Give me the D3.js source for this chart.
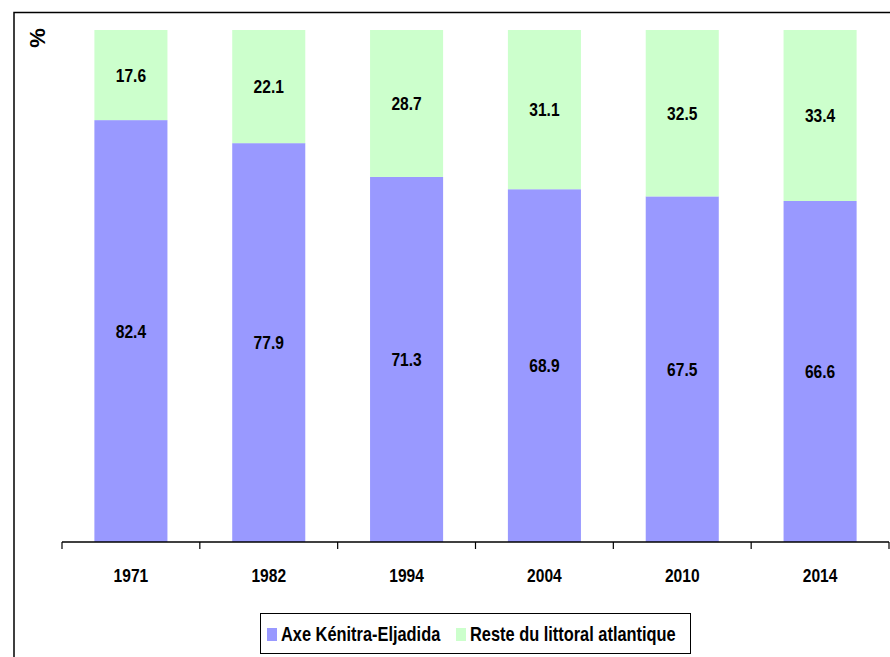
<!DOCTYPE html>
<html>
<head>
<meta charset="utf-8">
<script src="https://cdn.jsdelivr.net/npm/d3@7"></script>
<style>
  html, body { margin: 0; padding: 0; background: #fff; }
  svg { display: block; }
  text { font-family: "Liberation Sans", Arial, sans-serif; font-weight: bold; fill: #000; }
</style>
</head>
<body>
<div id="chart"></div>
<script>
// data
const years = ["1971", "1982", "1994", "2004", "2010", "2014"];
const axeKenitra = [82.4, 77.9, 71.3, 68.9, 67.5, 66.6];
const resteLittoral = [17.6, 22.1, 28.7, 31.1, 32.5, 33.4];
const seriesNames = ["Axe Kénitra-Eljadida", "Reste du littoral atlantique"];
const seriesColors = ["#9999FF", "#CCFFCC"];

const width = 890;
const height = 657;
const plot = { left: 62, right: 889, top: 30, bottom: 542 };
const narrow = 0.82; // the original font is a condensed bold sans

const svg = d3.select("#chart")
  .append("svg")
  .attr("width", width)
  .attr("height", height);

// outer chart frame (runs off the right and bottom edges)
svg.append("rect")
  .attr("x", 14)
  .attr("y", 12.5)
  .attr("width", 1000)
  .attr("height", 1000)
  .attr("fill", "none")
  .attr("stroke", "#000")
  .attr("stroke-width", 1.5);

const table = years.map((y, i) => ({ year: y, axe: axeKenitra[i], reste: resteLittoral[i] }));
const stacked = d3.stack().keys(["axe", "reste"])(table);

const x = d3.scaleBand()
  .domain(years)
  .range([plot.left, plot.right])
  .paddingInner(0.47)
  .paddingOuter(0.235);

const y = d3.scaleLinear()
  .domain([0, 100])
  .range([plot.bottom, plot.top]);

// bars
const layers = svg.append("g")
  .selectAll("g")
  .data(stacked)
  .join("g")
  .attr("fill", (_, i) => seriesColors[i]);

layers.selectAll("rect")
  .data(d => d)
  .join("rect")
  .attr("x", d => x(d.data.year))
  .attr("width", x.bandwidth())
  .attr("y", d => y(d[1]))
  .attr("height", d => y(d[0]) - y(d[1]));

// value labels in the middle of each segment
layers.selectAll("text")
  .data(layer => layer.map(d => ({ d, key: layer.key })))
  .join("text")
  .attr("transform", o =>
    `translate(${x(o.d.data.year) + x.bandwidth() / 2},${y((o.d[0] + o.d[1]) / 2)}) scale(${narrow},1)`)
  .attr("dy", "0.36em")
  .attr("text-anchor", "middle")
  .style("font-size", "19px")
  .text(o => d3.format(".1f")(o.d.data[o.key]));

// x axis: line, ticks between categories, labels
const axisG = svg.append("g");
axisG.append("line")
  .attr("x1", plot.left).attr("x2", plot.right)
  .attr("y1", plot.bottom).attr("y2", plot.bottom)
  .attr("stroke", "#000")
  .attr("stroke-width", 1.5);

const step = x.step();
axisG.selectAll(".tick-mark")
  .data(d3.range(years.length + 1))
  .join("line")
  .attr("class", "tick-mark")
  .attr("x1", i => plot.left + i * step)
  .attr("x2", i => plot.left + i * step)
  .attr("y1", plot.bottom)
  .attr("y2", plot.bottom + 7)
  .attr("stroke", "#000")
  .attr("stroke-width", 1.2);

axisG.selectAll(".cat")
  .data(years)
  .join("text")
  .attr("class", "cat")
  .attr("transform", d => `translate(${x(d) + x.bandwidth() / 2},582) scale(${narrow},1)`)
  .attr("text-anchor", "middle")
  .style("font-size", "19px")
  .text(d => d);

// unit label
svg.append("text")
  .attr("transform", "translate(45,38) rotate(-90)")
  .attr("text-anchor", "middle")
  .style("font-size", "22px")
  .text("%");

// legend
const legend = svg.append("g");
legend.append("rect")
  .attr("x", 260.5).attr("y", 613.5)
  .attr("width", 430).attr("height", 40)
  .attr("fill", "#fff")
  .attr("stroke", "#000")
  .attr("stroke-width", 1);

const legendX = [267, 456];
seriesNames.forEach((name, i) => {
  legend.append("rect")
    .attr("x", legendX[i]).attr("y", 628)
    .attr("width", 10).attr("height", 13)
    .attr("fill", seriesColors[i]);
  legend.append("text")
    .attr("transform", `translate(${legendX[i] + 14},641) scale(${narrow},1)`)
    .style("font-size", "20px")
    .text(name);
});
</script>
</body>
</html>
